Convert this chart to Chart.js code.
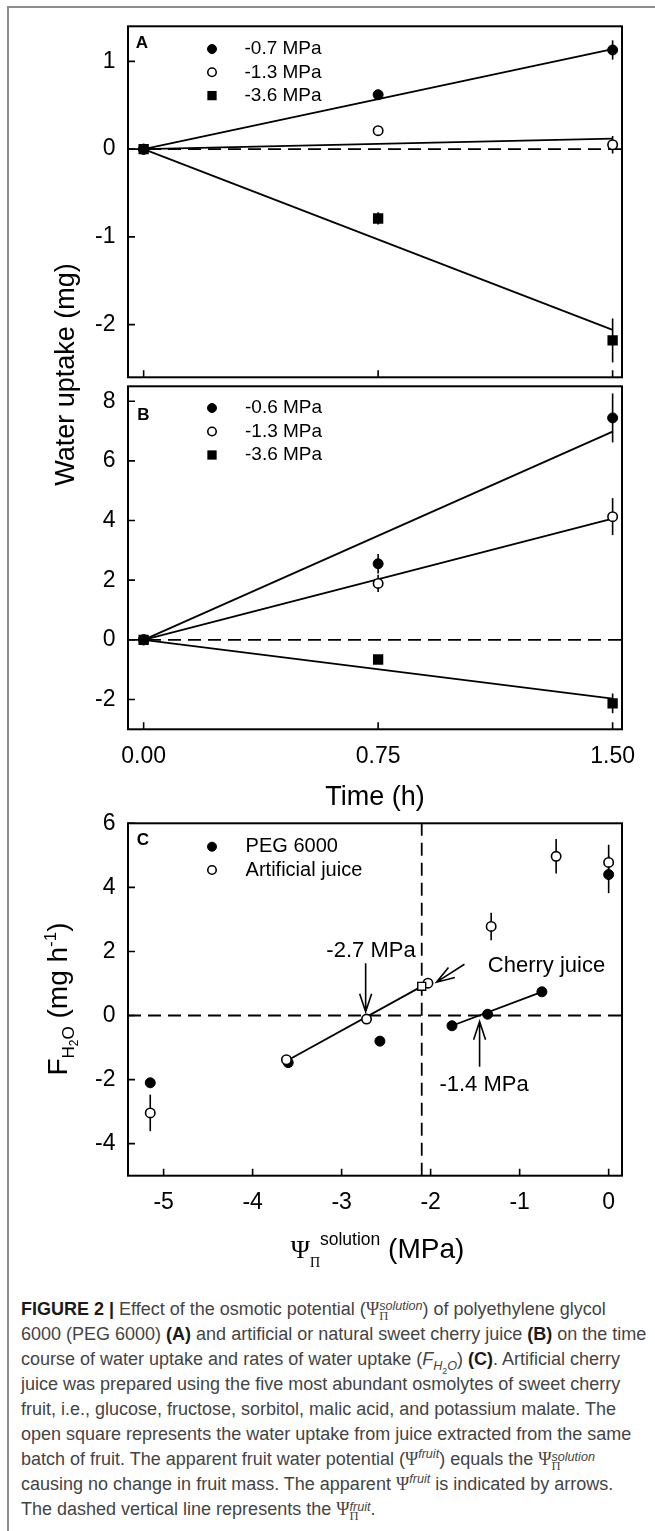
<!DOCTYPE html>
<html lang="en">
<head>
<meta charset="utf-8">
<title>Figure 2 - water uptake</title>
<script src="https://cdn.jsdelivr.net/npm/chart.js@4.4.1/dist/chart.umd.min.js"></script>
<style>
  body { margin: 0; background: #fff; }
  #page { position: relative; width: 655px; height: 1531px; overflow: hidden; }
  #frame { position: absolute; left: 7px; top: 6px; right: -5px; bottom: -5px;
           border-left: 2px solid #8c8c8c; border-top: 2px solid #8c8c8c; }
  canvas { position: absolute; left: 0; }
  #caption { position: absolute; left: 21px; top: 1297px; color: #444;
             font: 18px/25px "Liberation Sans", Arial, sans-serif; white-space: nowrap; }
  #caption b { color: #1a1a1a; }
  .gr { font-family: "Liberation Serif", "Times New Roman", serif; }
  .ss { display: inline-block; vertical-align: -0.42em; line-height: 0.78; font-size: 0.7em; }
  .ss i, .ss span { display: block; }
  sup, sub { font-size: 0.7em; line-height: 0; }
</style>
</head>
<body>
<div id="page">
  <div id="frame"></div>
  <canvas id="chartA" width="655" height="500" style="top:0px"></canvas>
  <canvas id="chartB" width="655" height="460" style="top:360px"></canvas>
  <canvas id="chartC" width="655" height="500" style="top:790px"></canvas>
  <div id="caption">
    <div><b>FIGURE 2 |</b> Effect of the osmotic potential (<span class="gr">Ψ</span><span class="ss"><i>solution</i><span class="gr">Π</span></span>) of polyethylene glycol</div>
    <div>6000 (PEG 6000) <b>(A)</b> and artificial or natural sweet cherry juice <b>(B)</b> on the time</div>
    <div>course of water uptake and rates of water uptake (<i>F</i><sub><i>H</i><sub>2</sub><i>O</i></sub>) <b>(C)</b>. Artificial cherry</div>
    <div>juice was prepared using the five most abundant osmolytes of sweet cherry</div>
    <div>fruit, i.e., glucose, fructose, sorbitol, malic acid, and potassium malate. The</div>
    <div>open square represents the water uptake from juice extracted from the same</div>
    <div>batch of fruit. The apparent fruit water potential (<span class="gr">Ψ</span><sup><i>fruit</i></sup>) equals the <span class="gr">Ψ</span><span class="ss"><i>solution</i><span class="gr">Π</span></span></div>
    <div>causing no change in fruit mass. The apparent <span class="gr">Ψ</span><sup><i>fruit</i></sup> is indicated by arrows.</div>
    <div>The dashed vertical line represents the <span class="gr">Ψ</span><span class="ss"><i>fruit</i><span class="gr">Π</span></span>.</div>
  </div>
</div>
<script>
// ---- data ----
// A: PEG 6000, water uptake (mg) over time (h)
const timeH = [0, 0.75, 1.5];
const peg07 = [0, 0.62, 1.13];
const peg07Err = [0, 0.03, 0.11];
const peg13 = [0, 0.21, 0.05];
const peg13Err = [0, 0.02, 0.1];
const peg36 = [0, -0.79, -2.18];
const peg36Err = [0, 0.07, 0.25];
const fitTime = [0, 1.5];
const peg07Fit = [0, 1.14];
const peg13Fit = [0, 0.12];
const peg36Fit = [0, -2.06];

// B: artificial / natural juice
const juice06 = [0, 2.55, 7.44];
const juice06Err = [0, 0.33, 0.82];
const juice13 = [0, 1.89, 4.13];
const juice13Err = [0, 0.29, 0.62];
const juice36 = [0, -0.66, -2.13];
const juice36Err = [0, 0.08, 0.33];
const juice06Fit = [0, 6.98];
const juice13Fit = [0, 4.06];
const juice36Fit = [0, -1.97];

// C: rate of water uptake (mg h-1) vs osmotic potential (MPa)
const pegPsi = [-5.15, -3.6, -2.57, -1.76, -1.36, -0.75, 0];
const pegRate = [-2.1, -1.47, -0.8, -0.32, 0.04, 0.74, 4.4];
const pegRateErr = [0.12, 0.1, 0.08, 0.08, 0.06, 0.08, 0.58];
const artPsi = [-5.15, -3.62, -2.72, -2.03, -1.32, -0.59, 0];
const artRate = [-3.04, -1.38, -0.11, 1.01, 2.78, 4.97, 4.78];
const artRateErr = [0.57, 0.1, 0.08, 0.08, 0.43, 0.54, 0.55];
const cherryPsi = [-2.1];
const cherryRate = [0.91];
const artFitPsi = [-3.62, -2.1];
const artFitRate = [-1.42, 0.91];
const pegFitPsi = [-1.76, -0.75];
const pegFitRate = [-0.32, 0.74];
const fruitPsi = -2.1;

// axis limits and tick labels
const timeRange = [-0.05, 1.53];
const rangeA = [-2.6, 1.4];
const rangeB = [-3, 8.5];
const psiRange = [-5.4, 0.15];
const rateRange = [-5, 6];
const timeTicks = [0, 0.75, 1.5];
const ticksA = [-2, -1, 0, 1];
const ticksB = [-2, 0, 2, 4, 6, 8];
const psiTicks = [-5, -4, -3, -2, -1, 0];
const rateTicks = [-4, -2, 0, 2, 4, 6];
const legendA = ['-0.7 MPa', '-1.3 MPa', '-3.6 MPa'];
const legendB = ['-0.6 MPa', '-1.3 MPa', '-3.6 MPa'];
const legendC = ['PEG 6000', 'Artificial juice'];

// ---- styling ----
const SANS = '"Liberation Sans", Arial, sans-serif';
const SERIF = '"Liberation Serif", "Times New Roman", serif';
Chart.defaults.font.family = SANS;
Chart.defaults.color = '#000';
Chart.defaults.animation = false;
Chart.defaults.events = [];
Chart.defaults.plugins.legend.display = false;
Chart.defaults.plugins.tooltip.enabled = false;

const FILLED = { pointStyle: 'circle', pointRadius: 5, pointBackgroundColor: '#000', pointBorderColor: '#000', pointBorderWidth: 1 };
const OPEN = { pointStyle: 'circle', pointRadius: 4.7, pointBackgroundColor: '#fff', pointBorderColor: '#000', pointBorderWidth: 1.6 };
const SQUARE = { pointStyle: 'rect', pointRadius: 7.3, pointBackgroundColor: '#000', pointBorderColor: '#000', pointBorderWidth: 0 };
const OPEN_SQUARE = { pointStyle: 'rect', pointRadius: 5.6, pointBackgroundColor: '#fff', pointBorderColor: '#000', pointBorderWidth: 1.4 };

const pts = (xs, ys) => xs.map((x, i) => ({ x: x, y: ys[i] }));

function markers(label, xs, ys, errs, style, order) {
  return Object.assign({ type: 'scatter', label: label, data: pts(xs, ys), err: errs, showLine: false, order: order || 0 }, style);
}
function fitLine(xs, ys) {
  return { type: 'scatter', data: pts(xs, ys), showLine: true, borderColor: '#000', borderWidth: 1.8, pointRadius: 0, order: 1 };
}
function dashLine(xs, ys) {
  return { type: 'scatter', data: pts(xs, ys), showLine: true, borderColor: '#000', borderWidth: 1.8, borderDash: [13, 7], pointRadius: 0, order: 2 };
}

function xScale(range, ticks, height, showLabels, fmt) {
  return {
    type: 'linear', min: range[0], max: range[1],
    grid: { display: false, drawTicks: false }, border: { display: false },
    afterBuildTicks: s => { s.ticks = ticks.map(v => ({ value: v })); },
    afterFit: s => { s.height = height; },
    ticks: { display: showLabels, padding: 13.5, font: { size: 23 }, color: '#000', maxRotation: 0, autoSkip: false, callback: fmt }
  };
}
function yScale(range, ticks) {
  return {
    type: 'linear', min: range[0], max: range[1],
    grid: { display: false, drawTicks: false }, border: { display: false },
    afterBuildTicks: s => { s.ticks = ticks.map(v => ({ value: v })); },
    afterFit: s => { s.width = 128; },
    ticks: { padding: 12.5, font: { size: 23 }, color: '#000', autoSkip: false, callback: v => String(v) }
  };
}

function drawMarker(ctx, st, x, y, k) {
  const r = st.pointRadius * k;
  ctx.save();
  ctx.fillStyle = st.pointBackgroundColor;
  ctx.strokeStyle = st.pointBorderColor;
  ctx.lineWidth = st.pointBorderWidth;
  ctx.beginPath();
  if (st.pointStyle === 'rect') {
    const h = r * Math.SQRT1_2;
    ctx.rect(x - h, y - h, 2 * h, 2 * h);
  } else {
    ctx.arc(x, y, r, 0, Math.PI * 2);
  }
  ctx.fill();
  if (st.pointBorderWidth) ctx.stroke();
  ctx.restore();
}

function drawRich(ctx, parts, x, y, rotate) {
  ctx.save();
  ctx.translate(x, y);
  if (rotate) ctx.rotate(-Math.PI / 2);
  const widths = parts.map(p => { ctx.font = p.font; return ctx.measureText(p.text).width; });
  let cx = -widths.reduce((a, b) => a + b, 0) / 2;
  ctx.fillStyle = '#000';
  ctx.textAlign = 'left';
  ctx.textBaseline = 'alphabetic';
  parts.forEach((p, i) => {
    ctx.font = p.font;
    ctx.fillText(p.text, cx, p.dy || 0);
    cx += widths[i];
  });
  ctx.restore();
}

// error bars under the markers
const errorBars = {
  id: 'errorBars',
  beforeDatasetsDraw(chart) {
    const { ctx, scales: { x, y } } = chart;
    ctx.save();
    ctx.strokeStyle = '#000';
    ctx.lineWidth = 1.6;
    chart.data.datasets.forEach(ds => {
      if (!ds.err) return;
      ds.data.forEach((p, i) => {
        const e = ds.err[i];
        if (!e) return;
        const px = x.getPixelForValue(p.x);
        ctx.beginPath();
        ctx.moveTo(px, y.getPixelForValue(p.y - e));
        ctx.lineTo(px, y.getPixelForValue(p.y + e));
        ctx.stroke();
      });
    });
    ctx.restore();
  }
};

// box round the plot, inward ticks, panel letter and legend
const panel = {
  id: 'panel',
  afterDatasetsDraw(chart, args, o) {
    const { ctx, chartArea: a, scales: { x, y } } = chart;
    ctx.save();
    ctx.strokeStyle = '#000';
    ctx.lineWidth = 2;
    ctx.strokeRect(a.left, a.top, a.right - a.left, a.bottom - a.top);
    ctx.lineWidth = 1.6;
    ctx.beginPath();
    x.ticks.forEach(t => { const px = x.getPixelForValue(t.value); ctx.moveTo(px, a.bottom); ctx.lineTo(px, a.bottom - 7); });
    y.ticks.forEach(t => { const py = y.getPixelForValue(t.value); ctx.moveTo(a.left, py); ctx.lineTo(a.left + 7, py); });
    ctx.stroke();

    ctx.fillStyle = '#000';
    ctx.font = 'bold 17px ' + SANS;
    ctx.textAlign = 'center';
    ctx.textBaseline = 'middle';
    ctx.fillText(o.letter, a.left + o.letterX, a.top + o.letterY);

    ctx.font = o.legendSize + 'px ' + SANS;
    ctx.textAlign = 'left';
    chart.data.datasets.filter(ds => ds.label).forEach((ds, i) => {
      const yy = a.top + o.legendY + i * o.legendStep;
      drawMarker(ctx, ds, a.left + o.markerX, yy, 0.9);
      ctx.fillText(ds.label, a.left + o.textX, yy);
    });
    ctx.restore();
  }
};

// ---- panel A ----
new Chart(document.getElementById('chartA'), {
  type: 'scatter',
  data: {
    datasets: [
      markers(legendA[0], timeH, peg07, peg07Err, FILLED),
      markers(legendA[1], timeH, peg13, peg13Err, OPEN),
      markers(legendA[2], timeH, peg36, peg36Err, SQUARE),
      fitLine(fitTime, peg07Fit),
      fitLine(fitTime, peg13Fit),
      fitLine(fitTime, peg36Fit),
      dashLine(timeRange, [0, 0])
    ]
  },
  options: {
    responsive: false,
    layout: { padding: { left: 0, top: 24, right: 33, bottom: 0 } },
    scales: {
      x: xScale(timeRange, timeTicks, 122.7, false),
      y: yScale(rangeA, ticksA)
    },
    plugins: {
      panel: { letter: 'A', letterX: 14, letterY: 16.7, markerX: 84, textX: 116.5, legendY: 22.7, legendStep: 23.3, legendSize: 19 }
    }
  },
  plugins: [errorBars, panel, {
    id: 'waterTitle',
    afterDraw(chart) {
      drawRich(chart.ctx, [{ text: 'Water uptake (mg)', font: '27px ' + SANS }], 73.6, 374.5, true);
    }
  }]
});

// ---- panel B ----
new Chart(document.getElementById('chartB'), {
  type: 'scatter',
  data: {
    datasets: [
      markers(legendB[0], timeH, juice06, juice06Err, FILLED),
      markers(legendB[1], timeH, juice13, juice13Err, OPEN),
      markers(legendB[2], timeH, juice36, juice36Err, SQUARE),
      fitLine(fitTime, juice06Fit),
      fitLine(fitTime, juice13Fit),
      fitLine(fitTime, juice36Fit),
      dashLine(timeRange, [0, 0])
    ]
  },
  options: {
    responsive: false,
    layout: { padding: { left: 0, top: 17.3, right: 33, bottom: 0 } },
    scales: {
      x: Object.assign(xScale(timeRange, timeTicks, 90.7, true, v => v.toFixed(2)), {
        title: { display: true, text: 'Time (h)', color: '#000', font: { size: 27 }, padding: { top: 0, bottom: 5.8 } }
      }),
      y: yScale(rangeB, ticksB)
    },
    plugins: {
      panel: { letter: 'B', letterX: 15.3, letterY: 28.7, markerX: 84, textX: 117, legendY: 21.7, legendStep: 23.5, legendSize: 19 }
    }
  },
  plugins: [errorBars, panel]
});

// ---- panel C ----
const notesC = [
  { text: '-2.7 MPa', at: [-2.67, 2.01], align: 'center', from: [-2.73, 1.63], to: [-2.73, 0.12] },
  { text: 'Cherry juice', at: [-1.357, 1.556], align: 'left', from: [-1.62, 1.6], to: [-1.934, 1.04] },
  { text: '-1.4 MPa', at: [-1.4, -2.17], align: 'center', from: [-1.45, -1.6], to: [-1.45, -0.19] }
];

new Chart(document.getElementById('chartC'), {
  type: 'scatter',
  data: {
    datasets: [
      markers(legendC[0], pegPsi, pegRate, pegRateErr, FILLED, 0.2),
      markers(legendC[1], artPsi, artRate, artRateErr, OPEN, 0.1),
      markers(undefined, cherryPsi, cherryRate, null, OPEN_SQUARE, 0),
      fitLine(artFitPsi, artFitRate),
      fitLine(pegFitPsi, pegFitRate),
      dashLine(psiRange, [0, 0]),
      dashLine([fruitPsi, fruitPsi], rateRange)
    ]
  },
  options: {
    responsive: false,
    layout: { padding: { left: 0, top: 33.3, right: 33, bottom: 0 } },
    scales: {
      x: xScale(psiRange, psiTicks, 114.3, true, v => String(v)),
      y: yScale(rateRange, rateTicks)
    },
    plugins: {
      panel: { letter: 'C', letterX: 15, letterY: 16.7, markerX: 84, textX: 117.6, legendY: 23.4, legendStep: 23.3, legendSize: 20 }
    }
  },
  plugins: [errorBars, panel, {
    id: 'notes',
    afterDraw(chart) {
      const { ctx, scales: { x, y } } = chart;
      ctx.save();
      ctx.strokeStyle = '#000';
      ctx.fillStyle = '#000';
      ctx.lineWidth = 1.6;
      ctx.font = '22px ' + SANS;
      ctx.textBaseline = 'middle';
      notesC.forEach(n => {
        ctx.textAlign = n.align;
        ctx.fillText(n.text, x.getPixelForValue(n.at[0]), y.getPixelForValue(n.at[1]));
        const x0 = x.getPixelForValue(n.from[0]), y0 = y.getPixelForValue(n.from[1]);
        const x1 = x.getPixelForValue(n.to[0]), y1 = y.getPixelForValue(n.to[1]);
        const ang = Math.atan2(y1 - y0, x1 - x0);
        ctx.beginPath();
        ctx.moveTo(x0, y0);
        ctx.lineTo(x1, y1);
        ctx.moveTo(x1 - 19 * Math.cos(ang - 0.32), y1 - 19 * Math.sin(ang - 0.32));
        ctx.lineTo(x1, y1);
        ctx.lineTo(x1 - 19 * Math.cos(ang + 0.32), y1 - 19 * Math.sin(ang + 0.32));
        ctx.stroke();
      });
      ctx.restore();

      // axis titles with sub- and superscripts
      drawRich(ctx, [
        { text: 'F', font: '28px ' + SANS },
        { text: 'H', font: '17px ' + SANS, dy: 7 },
        { text: '2', font: '12px ' + SANS, dy: 11 },
        { text: 'O', font: '17px ' + SANS, dy: 7 },
        { text: ' (mg h', font: '28px ' + SANS },
        { text: '-1', font: '17px ' + SANS, dy: -11 },
        { text: ')', font: '28px ' + SANS }
      ], 67, 209, true);
      drawRich(ctx, [
        { text: 'Ψ', font: '26px ' + SERIF },
        { text: 'Π', font: '14px ' + SERIF, dy: 8.4 },
        { text: 'solution', font: '17.5px ' + SANS, dy: -13 },
        { text: ' (MPa)', font: '28px ' + SANS }
      ], 377.5, 468.3, false);
    }
  }]
});
</script>
</body>
</html>
